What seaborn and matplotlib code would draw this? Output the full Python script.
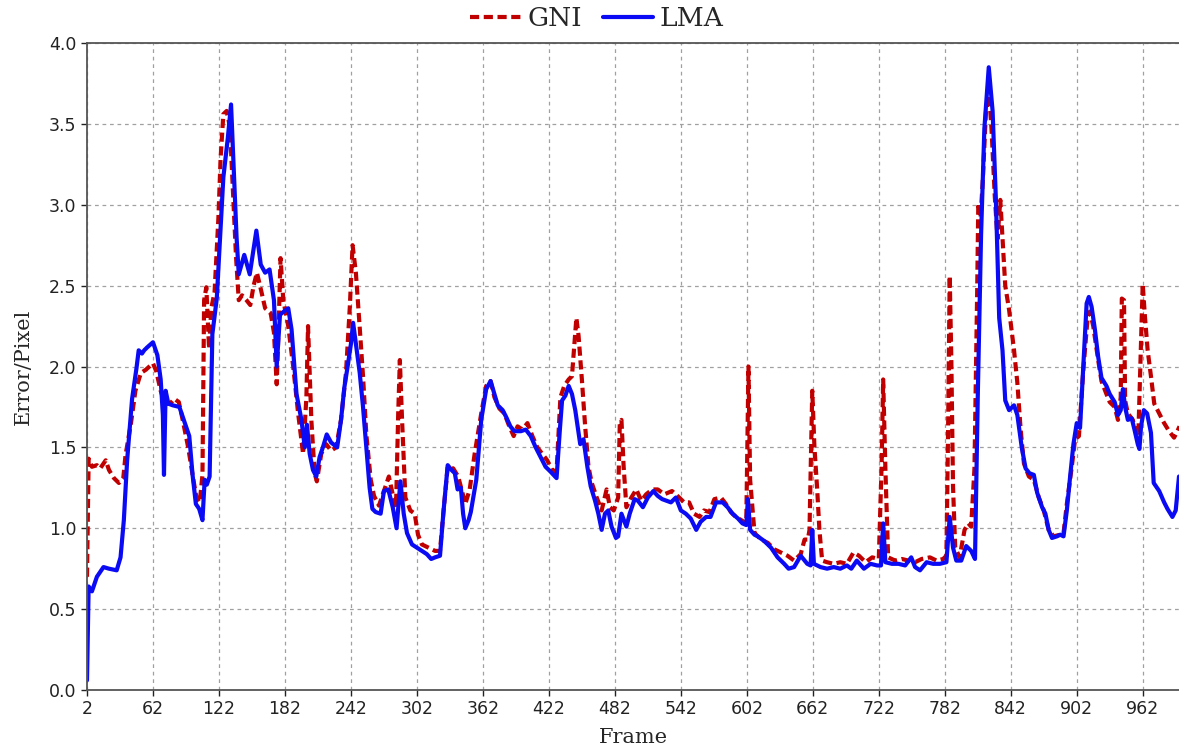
import numpy as np
import pandas as pd
import matplotlib
matplotlib.use("Agg")
import matplotlib.pyplot as plt
import seaborn as sns

# ---- data ----
lma_frame = [2, 3.5, 6.5, 11, 17, 22, 29, 32.5, 35.5, 38.5, 43, 47, 49, 52, 54, 57, 62, 66, 69, 71, 72, 73.5, 76, 80, 86, 91, 95, 98, 101, 104, 107, 109, 111, 113.5, 116, 120, 123, 126, 130, 133, 135, 138, 140, 145, 150, 156, 160, 164, 168, 172, 174.5, 177.5, 181, 185, 188, 192.5, 197, 200, 202, 204.5, 207.5, 210.5, 213.5, 216.5, 220, 224, 229.5, 233, 236, 239, 242, 244, 246.5, 250, 253, 256, 259, 261.5, 264.5, 269, 272, 276, 280, 283.5, 287, 290, 293, 297.5, 302, 306.5, 311, 315, 318.5, 323, 326, 330, 333.5, 336.5, 339, 342, 344, 346, 349, 351, 356, 360.5, 365, 369, 372.5, 375.5, 380, 383, 387, 390.5, 396.5, 401, 405.5, 410, 414.5, 419, 423.5, 429, 432, 434, 437, 440, 443, 446, 450.5, 453.5, 457, 460, 464, 467, 470, 473, 476, 479, 483, 485, 488, 492.5, 495.5, 500, 503, 507.5, 512, 517, 521, 525, 533, 537.5, 542, 546.5, 551, 556, 560, 565, 569, 574, 580, 584.5, 589, 594, 598, 601.5, 603, 605, 609, 612, 618, 624, 630, 636, 640, 645, 651, 657, 660, 661.5, 663, 669, 675, 681, 687, 693, 697, 702, 708.5, 714.5, 720.5, 724, 726, 728, 734, 740, 746, 751.5, 755, 759.5, 765.5, 771.5, 777.5, 783.5, 786.5, 789.5, 792.5, 797, 801.5, 806, 809.5, 812, 815, 818, 822, 825.5, 828.5, 831.5, 834.5, 837, 840.5, 845, 848, 852, 855.5, 859, 863, 866, 870.5, 873.5, 876.5, 879.5, 884, 887, 890, 893, 896, 899, 902, 905, 908, 911, 913, 915.5, 918.5, 921.5, 924.5, 929, 932, 936.5, 939.5, 942, 944, 946, 948.5, 952, 954.5, 957.5, 959, 960.5, 963, 966, 969.5, 972, 974, 977, 981.5, 984.5, 989, 992, 995]
lma_error = [0.06, 0.64, 0.61, 0.7, 0.76, 0.75, 0.74, 0.82, 1.05, 1.42, 1.8, 1.99, 2.1, 2.08, 2.1, 2.12, 2.15, 2.07, 1.92, 1.7, 1.33, 1.85, 1.77, 1.76, 1.75, 1.65, 1.57, 1.33, 1.15, 1.12, 1.05, 1.3, 1.27, 1.32, 2.2, 2.42, 2.8, 3.17, 3.41, 3.62, 3.29, 2.8, 2.57, 2.69, 2.57, 2.84, 2.63, 2.58, 2.6, 2.41, 2.0, 2.32, 2.34, 2.36, 2.23, 1.83, 1.67, 1.5, 1.64, 1.46, 1.36, 1.32, 1.44, 1.5, 1.58, 1.53, 1.5, 1.67, 1.87, 2.0, 2.14, 2.27, 2.14, 1.96, 1.75, 1.5, 1.25, 1.12, 1.1, 1.09, 1.23, 1.24, 1.13, 1.0, 1.29, 1.09, 0.97, 0.9, 0.88, 0.86, 0.84, 0.81, 0.82, 0.83, 1.09, 1.39, 1.36, 1.34, 1.24, 1.25, 1.09, 1.0, 1.05, 1.1, 1.3, 1.67, 1.86, 1.91, 1.83, 1.76, 1.73, 1.69, 1.63, 1.6, 1.6, 1.61, 1.57, 1.5, 1.44, 1.38, 1.35, 1.31, 1.61, 1.79, 1.82, 1.88, 1.83, 1.73, 1.52, 1.55, 1.38, 1.26, 1.17, 1.09, 0.99, 1.09, 1.11, 1.01, 0.94, 0.95, 1.09, 1.01, 1.09, 1.18, 1.17, 1.13, 1.19, 1.23, 1.2, 1.18, 1.16, 1.19, 1.11, 1.09, 1.06, 0.99, 1.04, 1.07, 1.07, 1.16, 1.16, 1.13, 1.09, 1.06, 1.03, 1.02, 1.18, 0.99, 0.96, 0.95, 0.92, 0.88, 0.82, 0.78, 0.75, 0.76, 0.83, 0.78, 0.77, 0.99, 0.78, 0.76, 0.75, 0.76, 0.75, 0.77, 0.75, 0.8, 0.75, 0.78, 0.77, 0.77, 1.03, 0.79, 0.78, 0.78, 0.77, 0.82, 0.76, 0.74, 0.79, 0.78, 0.78, 0.79, 1.07, 0.88, 0.8, 0.8, 0.89, 0.86, 0.81, 1.81, 2.81, 3.47, 3.85, 3.58, 3.03, 2.3, 2.1, 1.79, 1.73, 1.76, 1.7, 1.5, 1.37, 1.34, 1.33, 1.22, 1.13, 1.09, 0.99, 0.94, 0.95, 0.96, 0.95, 1.11, 1.32, 1.52, 1.65, 1.62, 2.0, 2.39, 2.43, 2.37, 2.23, 2.06, 1.93, 1.88, 1.83, 1.78, 1.7, 1.73, 1.86, 1.75, 1.67, 1.68, 1.61, 1.52, 1.49, 1.63, 1.73, 1.71, 1.59, 1.28, 1.26, 1.23, 1.16, 1.12, 1.07, 1.11, 1.32]

gni_frame = [2, 3.5, 6.5, 11, 14, 19, 22, 26.5, 31, 35, 37, 42, 46, 51, 55.5, 62, 65, 69, 73, 77.5, 81.5, 85.5, 89, 94, 98.5, 101.5, 104.5, 107, 108.5, 110.5, 113, 115, 118, 121.5, 123.5, 126, 129, 132, 135, 137.5, 140, 143, 147, 150.5, 153.5, 156.5, 160, 164, 169, 172, 174.5, 176.5, 178, 180.5, 185, 189.5, 194, 198.5, 201.5, 203, 206, 209, 211, 215, 219.5, 224, 228.5, 233, 237.5, 241, 243.5, 246.5, 249.5, 253, 256, 260, 263, 267.5, 271, 276.5, 280, 283, 285, 286.5, 288.5, 291.5, 296, 300, 303, 306.5, 312.5, 318.5, 323, 326, 330, 335, 339.5, 343, 346, 350, 354.5, 360.5, 365, 369, 372.5, 377, 381.5, 386, 390, 393.5, 398, 402.5, 407, 411.5, 416, 420.5, 425, 429, 432.5, 436, 440, 443, 445, 447, 449, 452, 455, 458, 461, 465.5, 470, 474.5, 477.5, 481, 485, 486.5, 488, 490, 492.5, 497, 501.5, 506, 510.5, 516, 521, 527, 534, 540.5, 545, 549.5, 554, 559, 563, 568, 572.5, 578.5, 583, 587.5, 592, 597, 601.5, 603.5, 605, 609, 615, 621, 627, 633, 639, 645, 651, 654.5, 657.5, 659, 661.5, 663.5, 666, 668, 670.5, 675, 681, 687, 693, 699, 704, 710, 716, 722, 724.5, 726, 728, 730.5, 737, 743, 749, 755, 761, 768.5, 774.5, 780.5, 783.5, 785, 786.5, 788, 789.5, 791.5, 795.5, 800, 803.5, 806, 809, 811.5, 812.5, 814.5, 816.5, 819.5, 822, 824.5, 827.5, 830, 832.5, 834.5, 837, 840.5, 845, 848, 851, 854, 858.5, 863, 867.5, 872, 876.5, 881, 887, 890, 893, 897.5, 900.5, 904, 908, 912, 914, 917, 921.5, 924.5, 929, 932, 936.5, 939.5, 942, 943, 945, 946, 948.5, 953, 956, 958, 960, 962, 964, 966.5, 969.5, 972.5, 977, 981.5, 986, 990.5, 993.5, 995.5]
gni_error = [0.7, 1.43, 1.38, 1.39, 1.37, 1.42, 1.36, 1.31, 1.28, 1.31, 1.45, 1.65, 1.85, 1.96, 1.98, 2.02, 1.97, 1.85, 1.77, 1.77, 1.8, 1.78, 1.67, 1.5, 1.31, 1.19, 1.16, 1.33, 2.41, 2.49, 2.11, 2.36, 2.46, 2.92, 3.29, 3.56, 3.58, 3.48, 3.04, 2.68, 2.41, 2.44, 2.41, 2.38, 2.5, 2.58, 2.48, 2.36, 2.33, 2.21, 1.89, 2.31, 2.67, 2.41, 2.25, 2.0, 1.71, 1.46, 1.81, 2.25, 1.67, 1.34, 1.29, 1.46, 1.52, 1.48, 1.5, 1.67, 1.96, 2.37, 2.75, 2.58, 2.29, 1.94, 1.58, 1.3, 1.2, 1.14, 1.21, 1.32, 1.21, 1.13, 1.71, 2.04, 1.67, 1.19, 1.11, 1.09, 0.96, 0.9, 0.88, 0.86, 0.86, 1.09, 1.38, 1.37, 1.32, 1.23, 1.15, 1.24, 1.46, 1.71, 1.88, 1.91, 1.81, 1.74, 1.71, 1.63, 1.57, 1.63, 1.61, 1.65, 1.57, 1.5, 1.46, 1.42, 1.36, 1.35, 1.81, 1.88, 1.92, 1.94, 2.12, 2.3, 2.19, 1.92, 1.63, 1.38, 1.28, 1.19, 1.11, 1.24, 1.13, 1.11, 1.19, 1.65, 1.67, 1.38, 1.13, 1.19, 1.24, 1.17, 1.21, 1.24, 1.24, 1.21, 1.23, 1.19, 1.16, 1.16, 1.09, 1.07, 1.11, 1.1, 1.18, 1.19, 1.15, 1.1, 1.07, 1.05, 1.03, 2.0, 1.3, 0.97, 0.93, 0.91, 0.87, 0.85, 0.83, 0.8, 0.84, 0.93, 0.93, 0.99, 1.85, 1.5, 1.24, 0.99, 0.8, 0.79, 0.78, 0.79, 0.78, 0.85, 0.83, 0.79, 0.82, 0.81, 1.37, 1.92, 1.37, 0.82, 0.8, 0.81, 0.8, 0.79, 0.81, 0.82, 0.8, 0.81, 0.83, 1.59, 2.56, 2.03, 1.26, 0.88, 0.82, 0.99, 1.03, 1.01, 1.37, 2.48, 3.01, 2.92, 3.14, 3.58, 3.72, 3.47, 3.05, 2.79, 3.03, 2.79, 2.5, 2.35, 2.1, 1.9, 1.61, 1.4, 1.32, 1.3, 1.19, 1.11, 0.99, 0.95, 0.96, 0.97, 1.15, 1.38, 1.55, 1.57, 1.98, 2.31, 2.34, 2.25, 2.04, 1.91, 1.83, 1.78, 1.75, 1.67, 1.81, 2.42, 2.41, 1.79, 1.71, 1.67, 1.59, 1.57, 2.04, 2.51, 2.31, 2.1, 1.94, 1.77, 1.71, 1.65, 1.6, 1.56, 1.6, 1.63]

method_names = ["GNI", "LMA"]
x_ticks = list(range(2, 1000, 60))
y_ticks = [0.0, 0.5, 1.0, 1.5, 2.0, 2.5, 3.0, 3.5, 4.0]

df = pd.concat([
    pd.DataFrame({"Frame": gni_frame, "Error": gni_error, "Method": method_names[0]}),
    pd.DataFrame({"Frame": lma_frame, "Error": lma_error, "Method": method_names[1]}),
], ignore_index=True)

sns.set_style("ticks")
plt.rcParams["font.family"] = ["DejaVu Sans"]

fig = plt.figure(figsize=(11.79, 7.51), dpi=100)
ax = fig.add_axes([87 / 1179, (751 - 690) / 751, (1179 - 87) / 1179, (690 - 43) / 751])

sns.lineplot(data=df, x="Frame", y="Error", hue="Method", style="Method",
             hue_order=method_names, style_order=method_names,
             palette={"GNI": "#C00000", "LMA": "#0A0AF5"},
             dashes={"GNI": (2.2, 1.1), "LMA": ""},
             estimator=None, sort=False, linewidth=3.0, ax=ax, legend=True)

ax.set_xlim(2, 995)
ax.set_ylim(0, 4.0)
ax.set_xticks(x_ticks)
ax.set_yticks(y_ticks)
ax.set_yticklabels([f"{v:.1f}" for v in y_ticks])
ax.tick_params(axis="both", labelsize=12.5, colors="#222222", length=4, width=1, direction="out")
ax.grid(True, color="#a0a0a0", linestyle=(0, (3, 3)), linewidth=0.9)
for s in ["left", "bottom", "top"]:
    ax.spines[s].set_color("#555555")
    ax.spines[s].set_linewidth(1.3)
ax.spines["right"].set_visible(False)

ax.set_xlabel("Frame", fontsize=15, family="DejaVu Serif", labelpad=7)
ax.set_ylabel("Error/Pixel", fontsize=15, family="DejaVu Serif", labelpad=12)

handles, labels = ax.get_legend_handles_labels()
ax.legend(handles=handles, labels=labels, loc="center", bbox_to_anchor=(597 / 1179, 1 - 19 / 751),
          bbox_transform=fig.transFigure, ncol=2, frameon=False,
          prop={"family": "DejaVu Serif", "size": 19},
          handlelength=1.9, handletextpad=0.25, columnspacing=0.8)

fig.savefig("out.png", dpi=100)
